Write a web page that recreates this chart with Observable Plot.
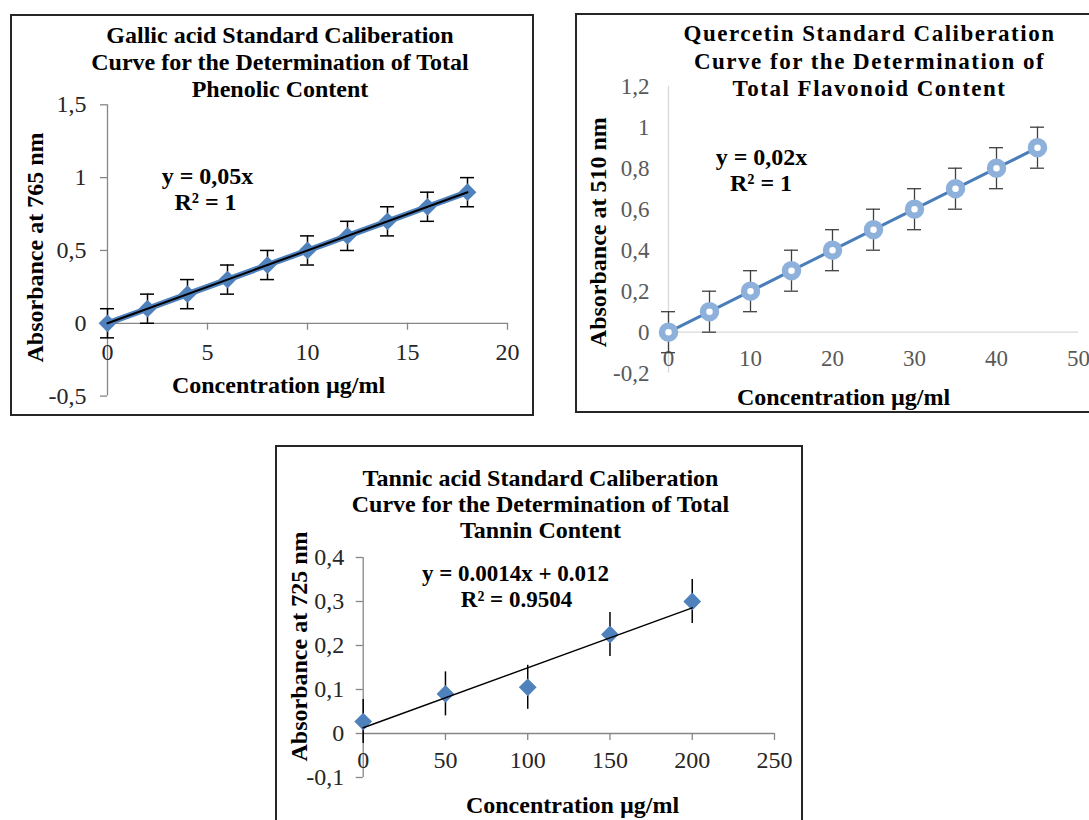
<!DOCTYPE html>
<html><head><meta charset="utf-8">
<script src="https://cdn.jsdelivr.net/npm/d3@7"></script>
<script src="https://cdn.jsdelivr.net/npm/@observablehq/plot@0.6"></script>
<style>
body{margin:0;background:#fff;width:1089px;height:820px;overflow:hidden;position:relative;font-family:"Liberation Serif",serif}
.panel{position:absolute;overflow:visible}
.panel svg{position:absolute;left:0;top:0;overflow:visible}
.frame{position:absolute;inset:0;box-sizing:border-box;border:2px solid #262626;pointer-events:none}
</style></head><body>
<div id="c1" class="panel" style="left:10px;top:14px;width:524px;height:402px"><div class="frame"></div></div>
<div id="c2" class="panel" style="left:575px;top:13px;width:524px;height:400px"><div class="frame" style="border-width:2.5px"></div></div>
<div id="c3" class="panel" style="left:275px;top:445px;width:528px;height:385px"><div class="frame"></div></div>
<script>
// ---------- DATA ----------
// Gallic acid (Total Phenolic Content)
const gallicConc = [0, 2, 4, 6, 8, 10, 12, 14, 16, 18];
const gallicAbs  = [0, 0.1, 0.2, 0.3, 0.4, 0.5, 0.6, 0.7, 0.8, 0.9];
const gallicErr  = [0.1, 0.1, 0.1, 0.1, 0.1, 0.1, 0.1, 0.1, 0.1, 0.1];
const gallicXTicks = [0, 5, 10, 15, 20];
const gallicYTicks = [-0.5, 0, 0.5, 1, 1.5];
const gallicTitle = "Gallic acid Standard Caliberation\nCurve for the Determination of Total\nPhenolic Content";
const gallicYLabel = "Absorbance at 765 nm";
const gallicEq = ["y = 0,05x", "R² = 1"];

// Quercetin (Total Flavonoid Content)
const quercetinConc = [0, 5, 10, 15, 20, 25, 30, 35, 40, 45];
const quercetinAbs  = [0, 0.1, 0.2, 0.3, 0.4, 0.5, 0.6, 0.7, 0.8, 0.9];
const quercetinErr  = [0.1, 0.1, 0.1, 0.1, 0.1, 0.1, 0.1, 0.1, 0.1, 0.1];
const quercetinXTicks = [0, 10, 20, 30, 40, 50];
const quercetinYTicks = [-0.2, 0, 0.2, 0.4, 0.6, 0.8, 1, 1.2];
const quercetinTitle = "Quercetin Standard Caliberation\nCurve for the Determination of\nTotal Flavonoid Content";
const quercetinYLabel = "Absorbance at 510 nm";
const quercetinEq = ["y = 0,02x", "R² = 1"];

// Tannic acid (Total Tannin Content)
const tannicConc = [0, 50, 100, 150, 200];
const tannicAbs  = [0.027, 0.09, 0.105, 0.225, 0.3];
const tannicErr  = [0.05, 0.05, 0.05, 0.05, 0.05];
const tannicXTicks = [0, 50, 100, 150, 200, 250];
const tannicYTicks = [-0.1, 0, 0.1, 0.2, 0.3, 0.4];
const tannicTitle = "Tannic acid Standard Caliberation\nCurve for the Determination of Total\nTannin Content";
const tannicYLabel = "Absorbance at 725 nm";
const tannicEq = ["y = 0.0014x + 0.012", "R² = 0.9504"];

const xLabel = "Concentration µg/ml";

// ---------- HELPERS ----------
const fmt = d => String(d).replace(".", ",");
const FONT = "Liberation Serif";
function rows(xs, ys, es) { return xs.map((x, i) => ({x, y: ys[i], e: es[i]})); }
function label(txt, px, py, opts = {}) {
  return Plot.text([txt], Object.assign({
    text: d => d, frameAnchor: "top-left", dx: px, dy: py,
    textAnchor: "middle", lineAnchor: "middle",
    fontWeight: "bold", fontSize: 24, fill: "#000"
  }, opts));
}
function axes(c) {
  const m = [
    Plot.ruleX([c.xd[0]], {y1: c.yd[0], y2: c.yd[1], stroke: c.axis, strokeWidth: 1.3}),
    Plot.ruleY([0], {x1: c.xd[0], x2: c.xd[1], stroke: c.axis, strokeWidth: 1.3}),
    Plot.text(c.xt, {x: d => d, y: 0, dy: c.xdy, text: fmt, fontSize: c.fs, fill: c.tc}),
    Plot.text(c.yt, {x: c.xd[0], y: d => d, dx: -c.ydx, textAnchor: "end", text: fmt, fontSize: c.fs, fill: c.tc})
  ];
  if (c.tick) {
    m.push(Plot.ruleX(c.xt, {x: d => d, y1: 0, y2: 0, insetBottom: -c.tick, stroke: c.axis, strokeWidth: 1.3}));
    m.push(Plot.ruleY(c.yt, {y: d => d, x1: c.xd[0], x2: c.xd[0], insetLeft: -c.tick, stroke: c.axis, strokeWidth: 1.3}));
  }
  return m;
}
function plot(c, marks) {
  return Plot.plot({
    width: c.w, height: c.h, margin: 0,
    x: {domain: c.xd, range: c.xr, axis: null},
    y: {domain: c.yd, range: c.yr, axis: null},
    style: {fontFamily: FONT, fontSize: "24px", background: "transparent", overflow: "visible"},
    marks
  });
}

// ---------- CHART 1 ----------
{
  const data = rows(gallicConc, gallicAbs, gallicErr);
  const c = {w: 524, h: 402, xd: [0, 20], xr: [97, 497], yd: [-0.5, 1.5], yr: [381.6, 90.3],
             xt: gallicXTicks, yt: gallicYTicks, axis: "#868686", tick: 7, fs: 24, tc: "#262626", xdy: 29, ydx: 21};
  const svg = plot(c, [
    ...axes(c),
    Plot.ruleX(data, {x: "x", y1: d => d.y - d.e, y2: d => d.y + d.e, stroke: "#000", strokeWidth: 1.5}),
    Plot.ruleY(data, {y: d => d.y + d.e, x1: "x", x2: "x", insetLeft: -7, insetRight: -7, stroke: "#000", strokeWidth: 1.5}),
    Plot.ruleY(data, {y: d => d.y - d.e, x1: "x", x2: "x", insetLeft: -7, insetRight: -7, stroke: "#000", strokeWidth: 1.5}),
    Plot.line(data, {x: "x", y: "y", stroke: "#4F81BD", strokeWidth: 6}),
    Plot.dot(data, {x: "x", y: "y", symbol: "diamond2", r: 8, fill: "#4F81BD", stroke: "none"}),
    Plot.linearRegressionY(data, {x: "x", y: "y", ci: 0, stroke: "#000", strokeWidth: 2}),
    label(gallicTitle, 269.5, 46.7, {lineHeight: 1.14}),
    label(gallicYLabel, 25, 233, {rotate: -90}),
    label(xLabel, 268, 370.6),
    label(gallicEq[0], 197, 161.6),
    label(gallicEq[1], 195, 187.7)
  ]);
  document.getElementById("c1").prepend(svg);
}

// ---------- CHART 2 ----------
{
  const data = rows(quercetinConc, quercetinAbs, quercetinErr);
  const c = {w: 524, h: 400, xd: [0, 50], xr: [93, 503], yd: [-0.2, 1.2], yr: [359.7, 72.7],
             xt: quercetinXTicks, yt: quercetinYTicks, axis: "#d9d9d9", tick: 0, fs: 23, tc: "#595959", xdy: 26.3, ydx: 19};
  const svg = plot(c, [
    ...axes(c),
    Plot.ruleX(data, {x: "x", y1: d => d.y - d.e, y2: d => d.y + d.e, stroke: "#404040", strokeWidth: 1.3}),
    Plot.ruleY(data, {y: d => d.y + d.e, x1: "x", x2: "x", insetLeft: -7, insetRight: -7, stroke: "#404040", strokeWidth: 1.3}),
    Plot.ruleY(data, {y: d => d.y - d.e, x1: "x", x2: "x", insetLeft: -7, insetRight: -7, stroke: "#404040", strokeWidth: 1.3}),
    Plot.line(data, {x: "x", y: "y", stroke: "#4A7EBB", strokeWidth: 3}),
    Plot.dot(data, {x: "x", y: "y", r: 6.5, fill: "#fff", stroke: "#8EB1DC", strokeWidth: 6.5}),
    label(quercetinTitle, 294, 46.4, {lineHeight: 1.18, fontSize: 23}),
    label(quercetinYLabel, 23, 218.7, {rotate: -90}),
    label(xLabel, 268, 383.7),
    label(quercetinEq[0], 186, 143.7),
    label(quercetinEq[1], 185.5, 169.7)
  ]);
  svg.querySelectorAll("text").forEach(t => {
    if (t.textContent.startsWith("Quercetin")) t.style.letterSpacing = "1.5px";
  });
  document.getElementById("c2").prepend(svg);
}

// ---------- CHART 3 ----------
{
  const data = rows(tannicConc, tannicAbs, tannicErr);
  const c = {w: 528, h: 385, xd: [0, 250], xr: [87.7, 499], yd: [-0.1, 0.4], yr: [332, 112],
             xt: tannicXTicks, yt: tannicYTicks, axis: "#868686", tick: 7, fs: 24, tc: "#262626", xdy: 27, ydx: 19};
  const svg = plot(c, [
    ...axes(c),
    Plot.ruleX(data, {x: "x", y1: d => d.y - d.e, y2: d => d.y + d.e, stroke: "#000", strokeWidth: 1.5}),
    Plot.dot(data, {x: "x", y: "y", symbol: "diamond2", r: 8, fill: "#4F81BD", stroke: "none"}),
    Plot.linearRegressionY(data, {x: "x", y: "y", ci: 0, stroke: "#000", strokeWidth: 1.5}),
    label(tannicTitle, 265, 58.1, {lineHeight: 1.1}),
    label(tannicYLabel, 24, 201, {rotate: -90}),
    label(xLabel, 297, 360),
    label(tannicEq[0], 240, 128, {fontSize: 23}),
    label(tannicEq[1], 241, 154, {fontSize: 23})
  ]);
  document.getElementById("c3").prepend(svg);
}
</script>
</body></html>
